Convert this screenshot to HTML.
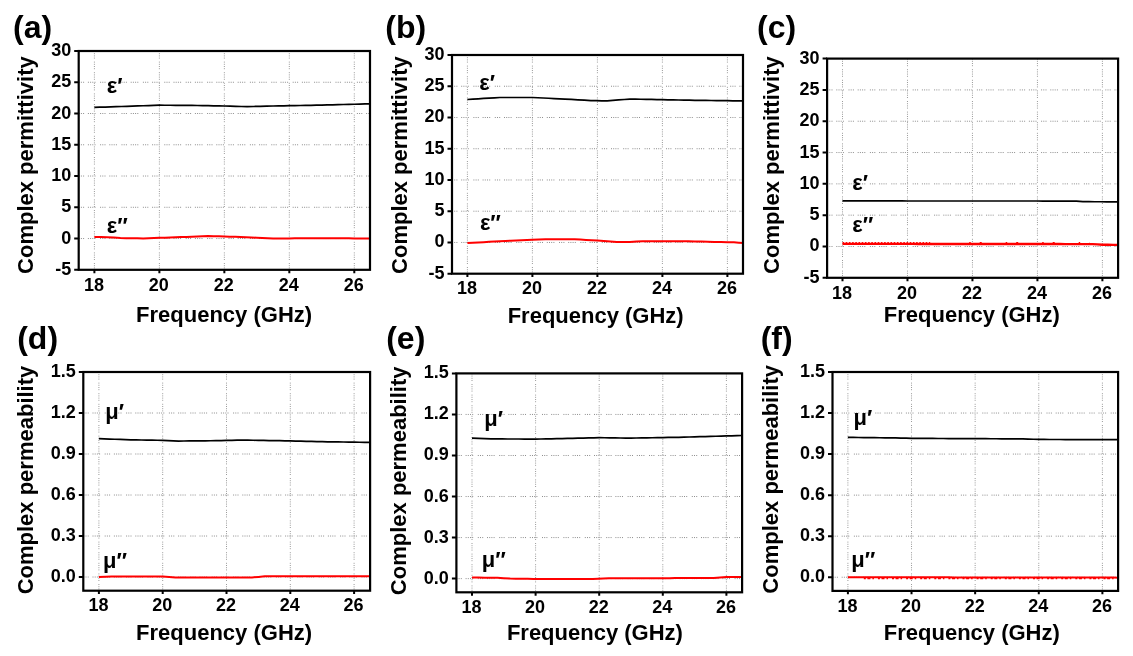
<!DOCTYPE html>
<html lang="en"><head><meta charset="utf-8"><title>Complex permittivity and permeability vs frequency</title>
<style>
html,body{margin:0;padding:0;background:#fff;}
body{width:1133px;height:656px;overflow:hidden;font-family:"Liberation Sans", sans-serif;}
svg{display:block;will-change:transform;}
svg text{font-family:"Liberation Sans", sans-serif;font-weight:bold;fill:#000;}
.tk{font-size:18px;}
.ax{font-size:22px;}
.pl{font-size:32px;}
.cl{font-size:22px;}
.g{stroke:#8e8e8e;stroke-width:1;stroke-dasharray:1 1.2 1 1.2 1 3.8 1 1.2 1 1.2 1 1.2 1 4.6;fill:none;}
.gv{stroke:#9a9a9a;stroke-dasharray:1 1.2 1 1.2 1 1.2 1 3;}
.fr{stroke:#000;stroke-width:2.2;fill:none;}
.t{stroke:#000;stroke-width:2;fill:none;}
.k{stroke:#000;stroke-width:1.7;fill:none;stroke-linejoin:round;}
.r{stroke:#f00;stroke-width:2;fill:none;stroke-linejoin:round;}
</style></head><body>
<svg width="1133" height="656" viewBox="0 0 1133 656">
<rect width="1133" height="656" fill="#fff"/>
<g id="panel-a">
<path class="g gv" d="M94.4 51V269.8M159.38 51V269.8M224.35 51V269.8M289.32 51V269.8M354.3 51V269.8"/>
<path class="g" d="M78.7 238.54H370M78.7 207.29H370M78.7 176.03H370M78.7 144.77H370M78.7 113.51H370M78.7 82.26H370"/>
<path class="k" d="M94.4 107.39L99.81 107.21L105.23 107.03L110.64 106.86L116.06 106.68L121.47 106.5L126.89 106.33L132.3 106.14L137.72 105.95L143.13 105.76L148.55 105.57L153.96 105.39L159.38 105.2L164.79 105.23L170.2 105.26L175.62 105.29L181.03 105.32L186.45 105.36L191.86 105.39L197.28 105.49L202.69 105.6L208.11 105.7L213.52 105.8L218.94 105.91L224.35 106.01L230.04 106.17L235.72 106.33L241.41 106.48L247.09 106.64L253.59 106.48L260.09 106.33L266.58 106.17L273.08 106.01L278.5 105.91L283.91 105.8L289.32 105.7L294.74 105.6L300.15 105.49L305.57 105.39L310.98 105.28L316.4 105.18L321.81 105.07L327.23 104.94L332.64 104.8L338.06 104.66L343.47 104.52L348.89 104.38L354.3 104.24L359.71 104.1L365.13 103.96L370.54 103.82"/>
<path class="r" d="M94.4 236.98L100.9 237.07L107.39 237.17L113.89 237.61L120.39 238.04L126.08 238.14L131.76 238.23L137.45 238.32L143.13 238.42L148.55 238.23L153.96 238.04L159.38 237.86L164.79 237.67L170.2 237.48L175.62 237.29L181.03 237.08L186.45 236.88L191.86 236.67L197.28 236.46L202.69 236.25L208.11 236.04L213.52 236.2L218.94 236.35L224.35 236.51L229.76 236.67L235.18 236.82L240.59 236.98L246.01 237.24L251.42 237.5L256.84 237.76L262.25 238.02L267.67 238.28L273.08 238.54L278.5 238.49L283.91 238.44L289.32 238.39L294.74 238.33L300.15 238.28L305.57 238.23L310.98 238.23L316.4 238.23L321.81 238.23L327.23 238.23L332.64 238.23L338.06 238.23L343.47 238.28L348.89 238.33L354.3 238.39L359.71 238.44L365.13 238.49L370.54 238.54"/>
<rect class="fr" x="78.7" y="51" width="291.3" height="218.8"/>
<path class="t" d="M94.4 269.8v3.4M159.38 269.8v3.4M224.35 269.8v3.4M289.32 269.8v3.4M354.3 269.8v3.4M78.7 269.8h-4.5M78.7 238.54h-4.5M78.7 207.29h-4.5M78.7 176.03h-4.5M78.7 144.77h-4.5M78.7 113.51h-4.5M78.7 82.26h-4.5M78.7 51h-4.5"/>
<text class="tk" text-anchor="middle" x="93.9" y="290.5">18</text>
<text class="tk" text-anchor="middle" x="158.88" y="290.5">20</text>
<text class="tk" text-anchor="middle" x="223.85" y="290.5">22</text>
<text class="tk" text-anchor="middle" x="288.82" y="290.5">24</text>
<text class="tk" text-anchor="middle" x="353.8" y="290.5">26</text>
<text class="tk" text-anchor="end" x="71.2" y="274.8">-5</text>
<text class="tk" text-anchor="end" x="71.2" y="243.54">0</text>
<text class="tk" text-anchor="end" x="71.2" y="212.29">5</text>
<text class="tk" text-anchor="end" x="71.2" y="181.03">10</text>
<text class="tk" text-anchor="end" x="71.2" y="149.77">15</text>
<text class="tk" text-anchor="end" x="71.2" y="118.51">20</text>
<text class="tk" text-anchor="end" x="71.2" y="87.26">25</text>
<text class="tk" text-anchor="end" x="71.2" y="56">30</text>
<text class="ax" text-anchor="middle" x="224.1" y="321.9">Frequency (GHz)</text>
<text class="ax" text-anchor="end" transform="translate(32.7 56.3) rotate(-90)">Complex permittivity</text>
<text class="pl" x="13" y="37.8">(a)</text>
<text class="cl" x="106.7" y="92.6">ε′</text>
<text class="cl" x="106.7" y="232.5">ε″</text>
</g>
<g id="panel-b">
<path class="g gv" d="M467.4 55V273.7M532.4 55V273.7M597.4 55V273.7M662.4 55V273.7M727.4 55V273.7"/>
<path class="g" d="M452 242.46H743M452 211.21H743M452 179.97H743M452 148.73H743M452 117.49H743M452 86.24H743"/>
<path class="k" d="M467.4 99.49L472.82 99.14L478.23 98.78L483.65 98.43L489.07 98.12L494.48 97.8L499.9 97.49L505.32 97.49L510.73 97.49L516.15 97.49L521.57 97.49L526.98 97.49L532.4 97.49L537.82 97.75L543.23 98.01L548.65 98.27L554.07 98.53L559.48 98.79L564.9 99.05L571.4 99.44L577.9 99.83L584.4 100.22L590.9 100.61L596.32 100.7L601.73 100.78L607.15 100.86L612.84 100.41L618.52 99.96L624.21 99.51L629.9 99.05L635.32 99.16L640.73 99.26L646.15 99.36L651.57 99.47L656.98 99.57L662.4 99.68L667.82 99.78L673.23 99.89L678.65 99.99L684.07 100.09L689.48 100.2L694.9 100.3L700.32 100.37L705.73 100.44L711.15 100.51L716.57 100.58L721.98 100.65L727.4 100.72L732.82 100.79L738.23 100.86L743.65 100.93"/>
<path class="r" d="M467.4 243.08L472.82 242.77L478.23 242.46L483.65 242.14L489.07 241.83L494.48 241.52L499.9 241.21L505.32 240.97L510.73 240.73L516.15 240.49L521.57 240.25L526.98 240.01L532.4 239.77L538.9 239.49L545.4 239.21L551.25 239.21L557.1 239.21L562.95 239.21L568.8 239.21L574.65 239.21L580.34 239.55L586.02 239.9L591.71 240.24L597.4 240.58L603.9 241.08L610.4 241.58L616.9 242.08L623.4 242.02L629.9 241.96L636.4 241.58L642.9 241.21L648.59 241.21L654.27 241.21L659.96 241.21L665.65 241.21L671.34 241.21L677.02 241.21L682.71 241.21L688.4 241.21L694.9 241.39L701.4 241.58L707.9 241.77L714.4 241.96L720.9 242.08L727.4 242.21L733.9 242.33L738.78 242.71L743.65 243.08"/>
<rect class="fr" x="452" y="55" width="291" height="218.7"/>
<path class="t" d="M467.4 273.7v3.4M532.4 273.7v3.4M597.4 273.7v3.4M662.4 273.7v3.4M727.4 273.7v3.4M452 273.7h-4.5M452 242.46h-4.5M452 211.21h-4.5M452 179.97h-4.5M452 148.73h-4.5M452 117.49h-4.5M452 86.24h-4.5M452 55h-4.5"/>
<text class="tk" text-anchor="middle" x="466.9" y="294.4">18</text>
<text class="tk" text-anchor="middle" x="531.9" y="294.4">20</text>
<text class="tk" text-anchor="middle" x="596.9" y="294.4">22</text>
<text class="tk" text-anchor="middle" x="661.9" y="294.4">24</text>
<text class="tk" text-anchor="middle" x="726.9" y="294.4">26</text>
<text class="tk" text-anchor="end" x="444.5" y="278.7">-5</text>
<text class="tk" text-anchor="end" x="444.5" y="247.46">0</text>
<text class="tk" text-anchor="end" x="444.5" y="216.21">5</text>
<text class="tk" text-anchor="end" x="444.5" y="184.97">10</text>
<text class="tk" text-anchor="end" x="444.5" y="153.73">15</text>
<text class="tk" text-anchor="end" x="444.5" y="122.49">20</text>
<text class="tk" text-anchor="end" x="444.5" y="91.24">25</text>
<text class="tk" text-anchor="end" x="444.5" y="60">30</text>
<text class="ax" text-anchor="middle" x="595.7" y="322.5">Frequency (GHz)</text>
<text class="ax" text-anchor="end" transform="translate(406.5 56.3) rotate(-90)">Complex permittivity</text>
<text class="pl" x="385.3" y="37.8">(b)</text>
<text class="cl" x="479.2" y="90.2">ε′</text>
<text class="cl" x="479.9" y="230.2">ε″</text>
</g>
<g id="panel-c">
<path class="g gv" d="M842.5 58.6V277.8M907.48 58.6V277.8M972.45 58.6V277.8M1037.43 58.6V277.8M1102.4 58.6V277.8"/>
<path class="g" d="M827.1 246.49H1118.1M827.1 215.17H1118.1M827.1 183.86H1118.1M827.1 152.54H1118.1M827.1 121.23H1118.1M827.1 89.91H1118.1"/>
<path class="k" d="M842.5 200.95L847.91 200.96L853.33 200.96L858.74 200.96L864.16 200.96L869.57 200.96L874.99 200.97L880.4 200.97L885.82 200.97L891.23 200.97L896.65 200.97L902.06 200.97L907.48 200.98L912.89 200.98L918.3 200.98L923.72 200.98L929.13 200.98L934.55 200.98L939.96 200.99L945.38 200.99L950.79 200.99L956.21 200.99L961.62 200.99L967.04 200.99L972.45 201L977.86 201L983.28 201L988.69 201L994.11 201L999.52 201.01L1004.94 201.01L1010.35 201.01L1015.77 201.01L1021.18 201.01L1026.6 201.01L1032.01 201.02L1037.43 201.02L1042.99 201.04L1048.56 201.05L1054.13 201.07L1059.7 201.09L1065.27 201.11L1070.84 201.12L1076.41 201.14L1079.66 201.39L1082.91 201.64L1088.86 201.69L1094.82 201.73L1100.78 201.77L1106.73 201.81L1112.69 201.85L1118.64 201.89"/>
<path class="r" style="stroke-width:2.4" d="M842.5 243.86L847.91 243.86L853.33 243.87L858.74 243.87L864.16 243.88L869.57 243.88L874.99 243.89L880.4 243.89L885.82 243.9L891.23 243.9L896.65 243.91L902.06 243.91L907.48 243.92L912.89 243.92L918.3 243.93L923.72 243.93L929.13 243.94L934.55 243.94L939.96 243.95L945.38 243.95L950.79 243.96L956.21 243.96L961.62 243.97L967.04 243.98L972.45 243.98L977.91 243.99L983.38 243.99L988.84 244L994.31 244L999.77 244.01L1005.23 244.01L1010.7 244.02L1016.16 244.03L1021.62 244.03L1027.09 244.04L1032.55 244.04L1038.02 244.05L1043.48 244.05L1048.94 244.06L1054.41 244.07L1059.87 244.07L1065.33 244.08L1070.8 244.08L1076.26 244.09L1081.73 244.09L1087.19 244.1L1092.65 244.11L1097.53 244.42L1102.4 244.73L1107.81 244.79L1113.23 244.86L1118.64 244.92"/>
<path stroke="#f00" stroke-width="1" stroke-dasharray="1.6 1.6" fill="none" d="M842.5 242.56H930.22"/>
<path stroke="#f00" stroke-width="1.2" stroke-dasharray="1.5 9 2 24" fill="none" d="M969.2 242.58H1089.41"/>
<rect class="fr" x="827.1" y="58.6" width="291" height="219.2"/>
<path class="t" d="M842.5 277.8v3.4M907.48 277.8v3.4M972.45 277.8v3.4M1037.43 277.8v3.4M1102.4 277.8v3.4M827.1 277.8h-4.5M827.1 246.49h-4.5M827.1 215.17h-4.5M827.1 183.86h-4.5M827.1 152.54h-4.5M827.1 121.23h-4.5M827.1 89.91h-4.5M827.1 58.6h-4.5"/>
<text class="tk" text-anchor="middle" x="842" y="298.5">18</text>
<text class="tk" text-anchor="middle" x="906.98" y="298.5">20</text>
<text class="tk" text-anchor="middle" x="971.95" y="298.5">22</text>
<text class="tk" text-anchor="middle" x="1036.93" y="298.5">24</text>
<text class="tk" text-anchor="middle" x="1101.9" y="298.5">26</text>
<text class="tk" text-anchor="end" x="819.6" y="282.8">-5</text>
<text class="tk" text-anchor="end" x="819.6" y="251.49">0</text>
<text class="tk" text-anchor="end" x="819.6" y="220.17">5</text>
<text class="tk" text-anchor="end" x="819.6" y="188.86">10</text>
<text class="tk" text-anchor="end" x="819.6" y="157.54">15</text>
<text class="tk" text-anchor="end" x="819.6" y="126.23">20</text>
<text class="tk" text-anchor="end" x="819.6" y="94.91">25</text>
<text class="tk" text-anchor="end" x="819.6" y="63.6">30</text>
<text class="ax" text-anchor="middle" x="971.8" y="322.4">Frequency (GHz)</text>
<text class="ax" text-anchor="end" transform="translate(779.1 56.3) rotate(-90)">Complex permittivity</text>
<text class="pl" x="757" y="37.8">(c)</text>
<text class="cl" x="852.3" y="190">ε′</text>
<text class="cl" x="852.3" y="232.2">ε″</text>
</g>
<g id="panel-d">
<path class="g gv" d="M98.9 372V590.7M162.7 372V590.7M226.5 372V590.7M290.3 372V590.7M354.1 372V590.7"/>
<path class="g" d="M83.3 577.03H370.1M83.3 536.03H370.1M83.3 495.02H370.1M83.3 454.01H370.1M83.3 413.01H370.1"/>
<path class="k" d="M98.9 438.7L104.22 438.89L109.53 439.07L114.85 439.25L120.17 439.43L125.48 439.61L130.8 439.8L136.12 439.89L141.43 439.98L146.75 440.07L152.07 440.16L157.38 440.25L162.7 440.34L168.02 440.57L173.33 440.8L178.65 441.03L183.97 440.98L189.28 440.94L194.6 440.89L199.92 440.84L205.23 440.8L210.55 440.75L215.87 440.64L221.18 440.53L226.5 440.41L231.82 440.3L237.13 440.18L242.45 440.07L247.77 440.16L253.08 440.25L258.4 440.34L263.72 440.43L269.03 440.53L274.35 440.62L279.67 440.71L284.98 440.8L290.3 440.89L295.62 441.03L300.93 441.16L306.25 441.3L311.57 441.44L316.88 441.57L322.2 441.71L327.52 441.79L332.83 441.86L338.15 441.94L343.47 442.01L348.78 442.09L354.1 442.17L359.42 442.24L364.73 442.32L370.05 442.39"/>
<path class="r" d="M98.9 577.03L105.28 576.76L111.66 576.48L117.33 576.48L123 576.48L128.67 576.48L134.34 576.48L140.02 576.48L145.69 576.48L151.36 576.48L157.03 576.48L162.7 576.48L169.08 576.96L175.46 577.44L180.93 577.44L186.4 577.44L191.87 577.44L197.33 577.44L202.8 577.44L208.27 577.44L213.74 577.44L219.21 577.44L224.68 577.44L230.15 577.44L235.61 577.44L241.08 577.44L246.55 577.44L252.02 577.44L258.4 576.89L264.78 576.35L270.32 576.35L275.86 576.35L281.4 576.35L286.94 576.35L292.48 576.35L298.02 576.35L303.56 576.35L309.1 576.35L314.64 576.35L320.19 576.35L325.73 576.35L331.27 576.35L336.81 576.35L342.35 576.35L347.89 576.35L353.43 576.35L358.97 576.35L364.51 576.35L370.05 576.35"/>
<rect class="fr" x="83.3" y="372" width="286.8" height="218.7"/>
<path class="t" d="M98.9 590.7v3.4M162.7 590.7v3.4M226.5 590.7v3.4M290.3 590.7v3.4M354.1 590.7v3.4M83.3 577.03h-4.5M83.3 536.03h-4.5M83.3 495.02h-4.5M83.3 454.01h-4.5M83.3 413.01h-4.5M83.3 372h-4.5"/>
<text class="tk" text-anchor="middle" x="98.4" y="611.4">18</text>
<text class="tk" text-anchor="middle" x="162.2" y="611.4">20</text>
<text class="tk" text-anchor="middle" x="226" y="611.4">22</text>
<text class="tk" text-anchor="middle" x="289.8" y="611.4">24</text>
<text class="tk" text-anchor="middle" x="353.6" y="611.4">26</text>
<text class="tk" text-anchor="end" x="75.8" y="582.03">0.0</text>
<text class="tk" text-anchor="end" x="75.8" y="541.03">0.3</text>
<text class="tk" text-anchor="end" x="75.8" y="500.02">0.6</text>
<text class="tk" text-anchor="end" x="75.8" y="459.01">0.9</text>
<text class="tk" text-anchor="end" x="75.8" y="418.01">1.2</text>
<text class="tk" text-anchor="end" x="75.8" y="377">1.5</text>
<text class="ax" text-anchor="middle" x="224.1" y="640.2">Frequency (GHz)</text>
<text class="ax" text-anchor="end" transform="translate(32.7 365.7) rotate(-90)">Complex permeability</text>
<text class="pl" x="17.2" y="349">(d)</text>
<text class="cl" x="105.3" y="419">μ′</text>
<text class="cl" x="103" y="568.4">μ″</text>
</g>
<g id="panel-e">
<path class="g gv" d="M472 373.4V592.3M535.6 373.4V592.3M599.2 373.4V592.3M662.8 373.4V592.3M726.4 373.4V592.3"/>
<path class="g" d="M456.4 578.62H742.1M456.4 537.57H742.1M456.4 496.53H742.1M456.4 455.49H742.1M456.4 414.44H742.1"/>
<path class="k" d="M472 438.11L478.36 438.39L484.72 438.66L491.08 438.93L496.65 438.95L502.21 438.97L507.77 438.98L513.34 439L518.91 439.02L524.47 439.04L530.03 439.05L535.6 439.07L540.9 438.98L546.2 438.89L551.5 438.8L556.8 438.67L562.1 438.55L567.4 438.43L572.7 438.31L578 438.19L583.3 438.07L588.6 437.95L593.9 437.82L599.2 437.7L604.5 437.77L609.8 437.84L615.1 437.91L620.4 437.98L625.7 438.04L631 438.11L636.3 438.02L641.6 437.93L646.9 437.84L652.2 437.75L657.5 437.66L662.8 437.57L668.1 437.47L673.4 437.38L678.7 437.29L684 437.14L689.3 437L694.6 436.85L699.9 436.7L705.2 436.55L710.5 436.4L715.8 436.25L721.1 436.11L726.4 435.96L731.7 435.81L737 435.66L742.3 435.51"/>
<path class="r" d="M472 577.52L478.36 577.59L484.72 577.66L491.08 577.73L497.44 577.8L503.8 578.21L510.16 578.62L515.99 578.69L521.82 578.76L527.65 578.82L533.48 578.89L539.31 578.96L545.14 579.03L550.44 579.03L555.74 579.03L561.04 579.03L566.34 579.03L571.64 579.03L576.94 579.03L582.24 579.03L587.54 579.03L592.84 579.03L598.14 578.76L603.44 578.48L608.74 578.21L614.26 578.2L619.79 578.19L625.31 578.19L630.83 578.18L636.36 578.17L641.88 578.17L647.4 578.16L652.93 578.15L658.45 578.14L663.97 578.14L669.49 578.13L675.02 578.12L680.54 578.11L686.06 578.11L691.59 578.1L697.11 578.09L702.63 578.09L708.16 578.08L713.68 578.07L720.04 577.59L726.4 577.11L731.7 577.07L737 577.02L742.3 576.98"/>
<rect class="fr" x="456.4" y="373.4" width="285.7" height="218.9"/>
<path class="t" d="M472 592.3v3.4M535.6 592.3v3.4M599.2 592.3v3.4M662.8 592.3v3.4M726.4 592.3v3.4M456.4 578.62h-4.5M456.4 537.57h-4.5M456.4 496.53h-4.5M456.4 455.49h-4.5M456.4 414.44h-4.5M456.4 373.4h-4.5"/>
<text class="tk" text-anchor="middle" x="471.5" y="613">18</text>
<text class="tk" text-anchor="middle" x="535.1" y="613">20</text>
<text class="tk" text-anchor="middle" x="598.7" y="613">22</text>
<text class="tk" text-anchor="middle" x="662.3" y="613">24</text>
<text class="tk" text-anchor="middle" x="725.9" y="613">26</text>
<text class="tk" text-anchor="end" x="448.9" y="583.62">0.0</text>
<text class="tk" text-anchor="end" x="448.9" y="542.57">0.3</text>
<text class="tk" text-anchor="end" x="448.9" y="501.53">0.6</text>
<text class="tk" text-anchor="end" x="448.9" y="460.49">0.9</text>
<text class="tk" text-anchor="end" x="448.9" y="419.44">1.2</text>
<text class="tk" text-anchor="end" x="448.9" y="378.4">1.5</text>
<text class="ax" text-anchor="middle" x="594.9" y="640.2">Frequency (GHz)</text>
<text class="ax" text-anchor="end" transform="translate(406.1 366.5) rotate(-90)">Complex permeability</text>
<text class="pl" x="386.2" y="349">(e)</text>
<text class="cl" x="484.3" y="425.6">μ′</text>
<text class="cl" x="481.7" y="567.2">μ″</text>
</g>
<g id="panel-f">
<path class="g gv" d="M847.9 372V590.9M911.52 372V590.9M975.15 372V590.9M1038.78 372V590.9M1102.4 372V590.9"/>
<path class="g" d="M832.5 577.22H1118.1M832.5 536.17H1118.1M832.5 495.13H1118.1M832.5 454.09H1118.1M832.5 413.04H1118.1"/>
<path class="k" d="M847.9 437.4L853.2 437.46L858.5 437.52L863.81 437.58L869.11 437.64L874.41 437.7L879.71 437.76L885.01 437.82L890.32 437.88L895.62 437.94L900.92 438.08L906.22 438.22L911.52 438.35L916.83 438.38L922.13 438.41L927.43 438.43L932.73 438.46L938.04 438.48L943.34 438.51L948.64 438.54L953.94 438.56L959.24 438.59L964.55 438.61L969.85 438.64L975.15 438.67L980.45 438.69L985.75 438.72L991.06 438.74L996.36 438.77L1001.66 438.8L1006.96 438.82L1012.26 438.85L1017.57 438.88L1022.87 438.9L1028.17 439.08L1033.47 439.27L1038.78 439.45L1044.08 439.47L1049.38 439.49L1054.68 439.5L1059.98 439.52L1065.29 439.54L1070.59 439.56L1075.89 439.58L1081.19 439.59L1086.49 439.61L1091.8 439.63L1097.1 439.65L1102.4 439.67L1107.7 439.69L1113 439.7L1118.31 439.72"/>
<path class="r" d="M847.9 577.22L853.2 577.23L858.5 577.23L863.81 577.24L869.11 577.25L874.41 577.26L879.71 577.27L885.01 577.28L890.32 577.28L895.62 577.29L900.92 577.3L906.22 577.31L911.52 577.32L916.83 577.32L922.13 577.33L927.43 577.34L932.73 577.35L938.04 577.36L943.34 577.36L948.64 577.37L953.94 577.38L959.24 577.39L964.55 577.4L969.85 577.4L975.15 577.41L980.45 577.42L985.75 577.43L991.06 577.44L996.36 577.44L1001.66 577.45L1006.96 577.46L1012.26 577.47L1017.57 577.48L1022.87 577.48L1028.17 577.49L1033.47 577.5L1038.78 577.51L1044.08 577.52L1049.38 577.52L1054.68 577.53L1059.98 577.54L1065.29 577.55L1070.59 577.56L1075.89 577.56L1081.19 577.57L1086.49 577.58L1091.8 577.59L1097.1 577.6L1102.4 577.61L1107.7 577.61L1113 577.62L1118.31 577.63"/>
<path stroke="#f00" stroke-width="1.2" stroke-dasharray="2 1.6 3 2 1.5 4" fill="none" d="M863.81 578.72H1118.31"/>
<rect class="fr" x="832.5" y="372" width="285.6" height="218.9"/>
<path class="t" d="M847.9 590.9v3.4M911.52 590.9v3.4M975.15 590.9v3.4M1038.78 590.9v3.4M1102.4 590.9v3.4M832.5 577.22h-4.5M832.5 536.17h-4.5M832.5 495.13h-4.5M832.5 454.09h-4.5M832.5 413.04h-4.5M832.5 372h-4.5"/>
<text class="tk" text-anchor="middle" x="847.4" y="611.6">18</text>
<text class="tk" text-anchor="middle" x="911.02" y="611.6">20</text>
<text class="tk" text-anchor="middle" x="974.65" y="611.6">22</text>
<text class="tk" text-anchor="middle" x="1038.28" y="611.6">24</text>
<text class="tk" text-anchor="middle" x="1101.9" y="611.6">26</text>
<text class="tk" text-anchor="end" x="825" y="582.22">0.0</text>
<text class="tk" text-anchor="end" x="825" y="541.17">0.3</text>
<text class="tk" text-anchor="end" x="825" y="500.13">0.6</text>
<text class="tk" text-anchor="end" x="825" y="459.09">0.9</text>
<text class="tk" text-anchor="end" x="825" y="418.04">1.2</text>
<text class="tk" text-anchor="end" x="825" y="377">1.5</text>
<text class="ax" text-anchor="middle" x="971.8" y="640.2">Frequency (GHz)</text>
<text class="ax" text-anchor="end" transform="translate(777.9 365) rotate(-90)">Complex permeability</text>
<text class="pl" x="760.7" y="349">(f)</text>
<text class="cl" x="853.6" y="424.7">μ′</text>
<text class="cl" x="851.2" y="567">μ″</text>
</g>
</svg></body></html>
